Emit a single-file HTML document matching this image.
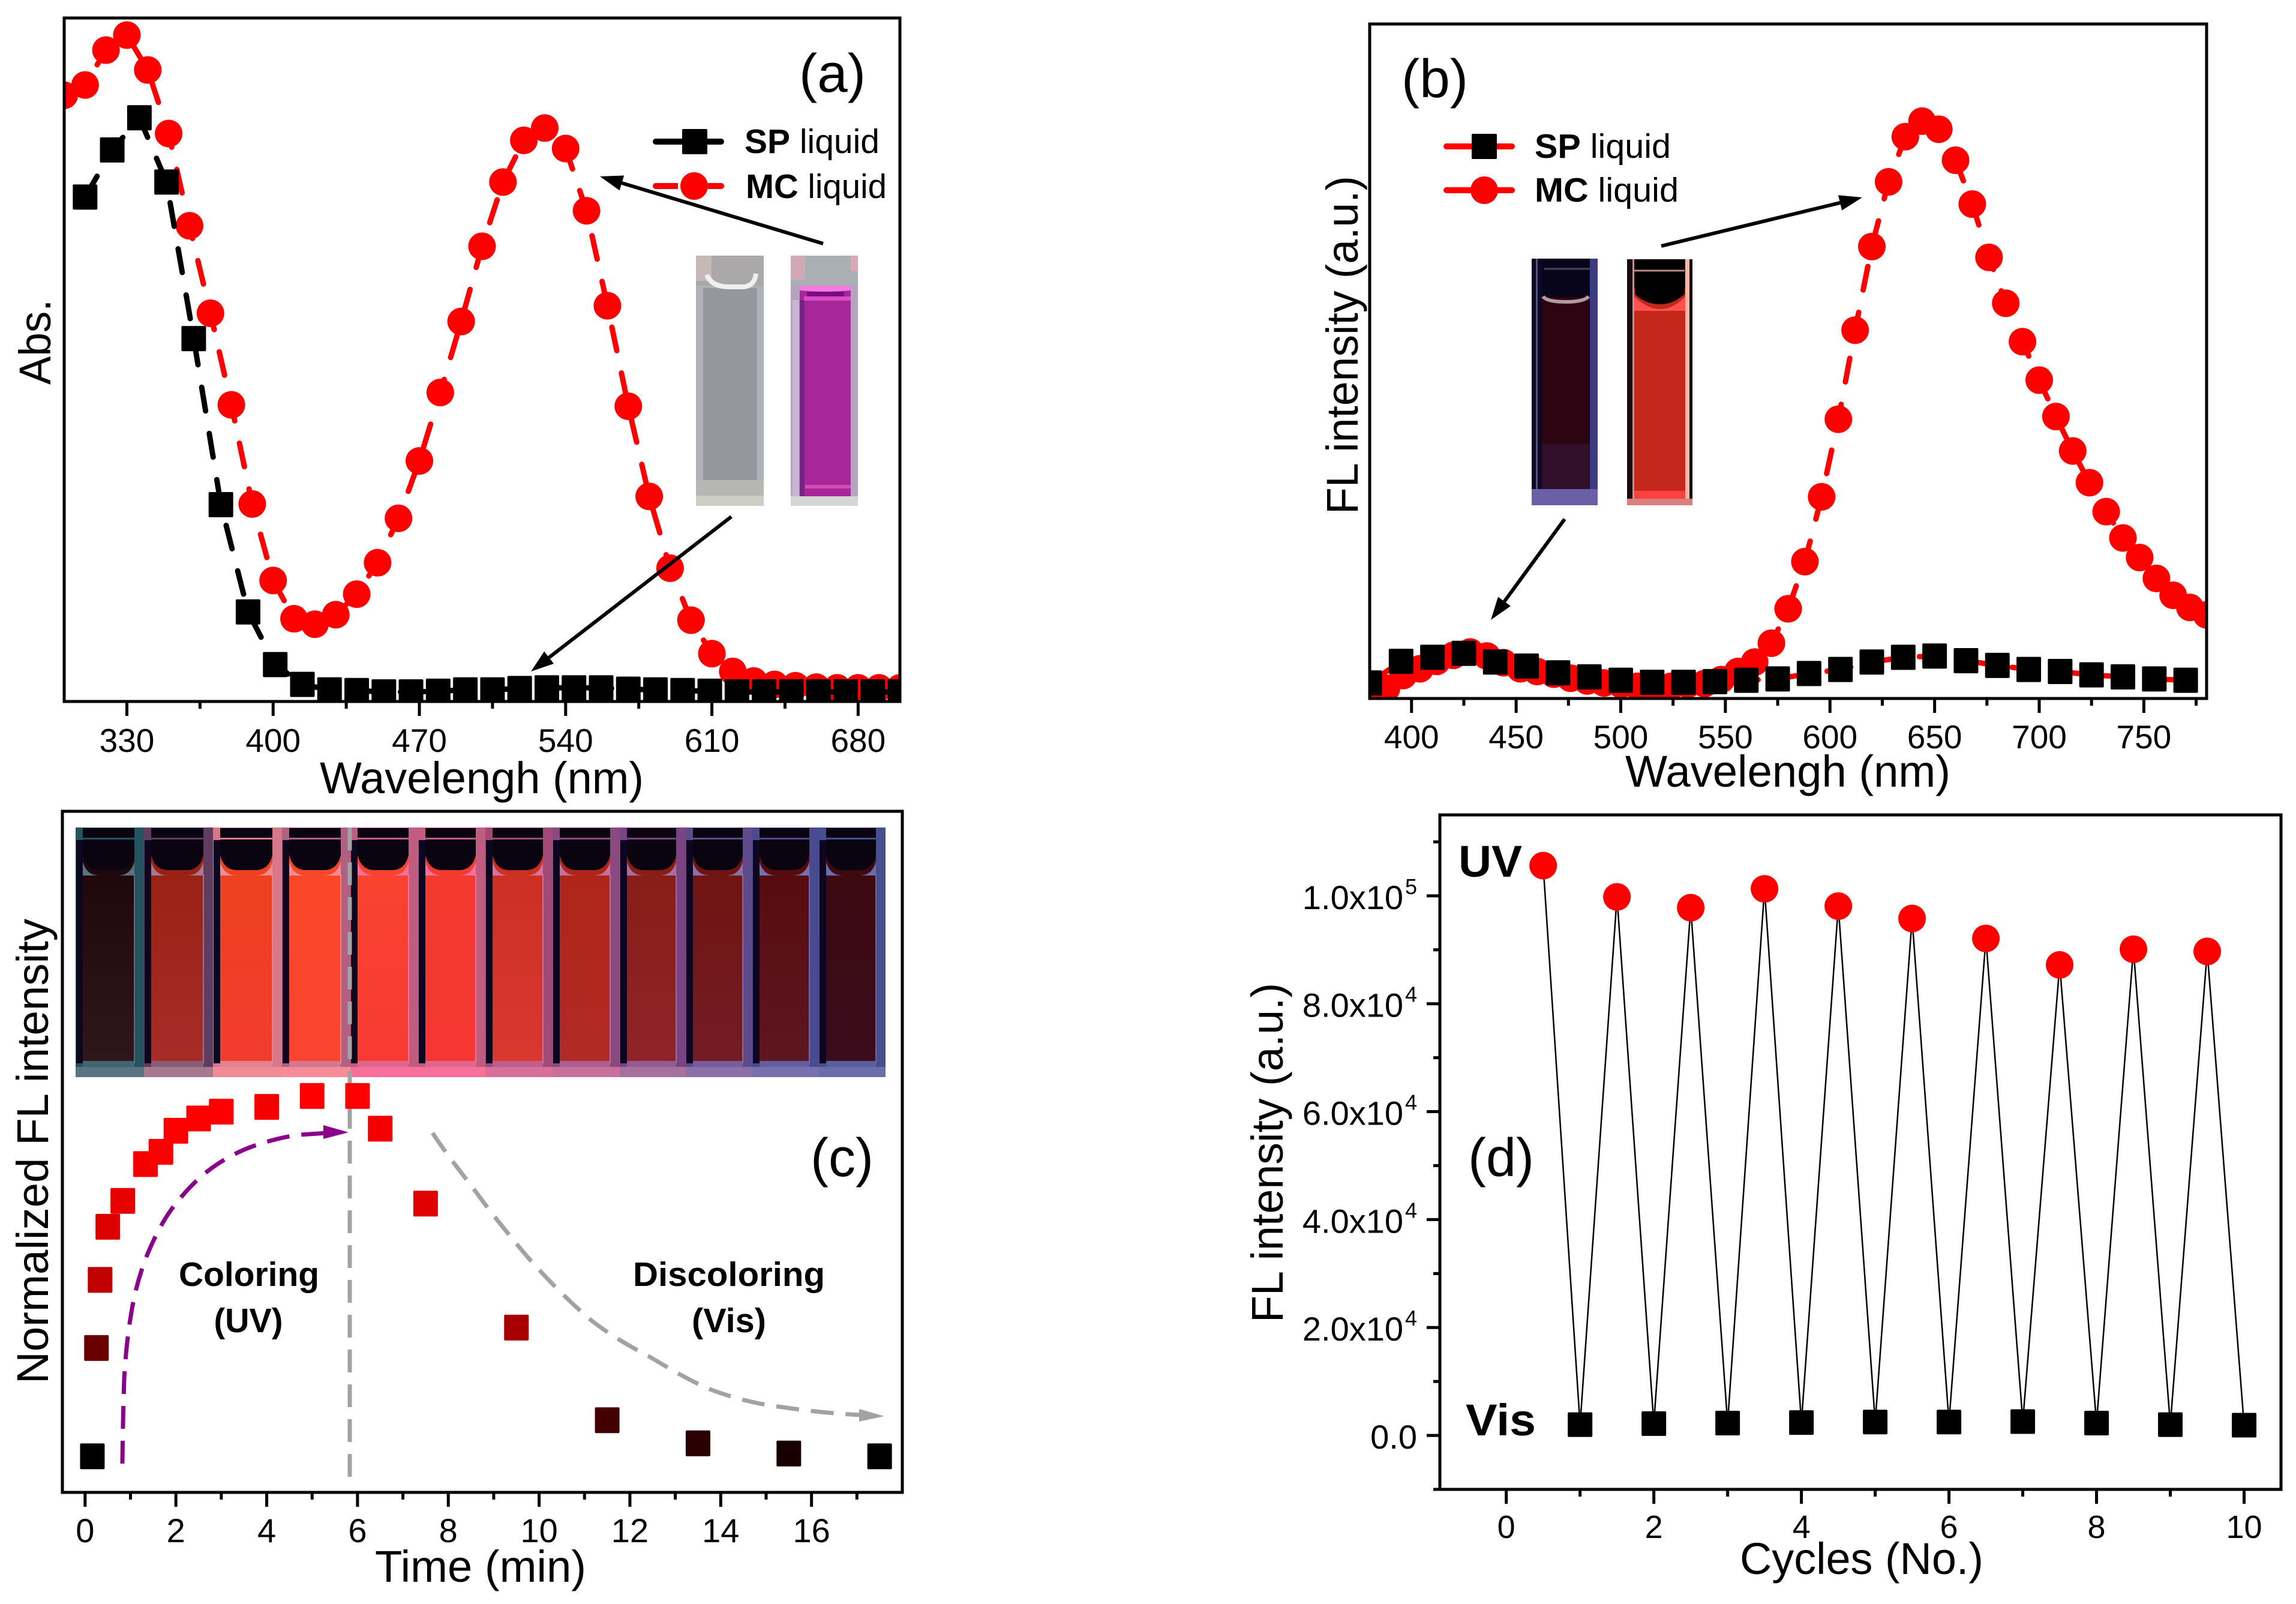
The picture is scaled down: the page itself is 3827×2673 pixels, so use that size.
<!DOCTYPE html>
<html lang="en">
<head>
<meta charset="utf-8">
<title>Photochromic spectra panels</title>
<style>
html,body{margin:0;padding:0;background:#fff}
svg{display:block}
text{font-family:"Liberation Sans",sans-serif;fill:#000}
.title{font-size:74px}
.panel{font-size:90px}
.leg{font-size:57px}
.bold{font-weight:bold}
</style>
</head>
<body>
<svg id="fig" xmlns="http://www.w3.org/2000/svg" width="3827" height="2673" viewBox="0 0 3827 2673">
<defs>
<clipPath id="clipA"><rect x="107" y="30" width="1393" height="1139"/></clipPath>
<clipPath id="clipB"><rect x="2283" y="40" width="1395" height="1124"/></clipPath>
<linearGradient id="sheen" x1="0" y1="0" x2="0" y2="1"><stop offset="0" stop-color="#fff" stop-opacity="0"/><stop offset="1" stop-color="#fff" stop-opacity=".07"/></linearGradient>
</defs>
<rect x="0" y="0" width="3827" height="2673" fill="#fff"/>

<g id="panelA">
  <g id="a-marks" clip-path="url(#clipA)"></g>
  <g id="a-ticks"></g>
  <rect x="107" y="30" width="1393" height="1139" fill="none" stroke="#000" stroke-width="5"/>
  <text class="title" x="533" y="1322" textLength="540" lengthAdjust="spacingAndGlyphs">Wavelengh (nm)</text>
  <text class="title" x="84" y="641" transform="rotate(-90 84 641)" textLength="142" lengthAdjust="spacingAndGlyphs">Abs.</text>
  <text class="panel" x="1332" y="153" textLength="111" lengthAdjust="spacingAndGlyphs">(a)</text>
  <g>
    <line x1="1093" y1="236" x2="1202" y2="236" stroke="#000" stroke-width="10" stroke-linecap="round"/>
    <rect x="1137" y="215" width="42" height="42" rx="2" fill="#000"/>
    <text class="leg" x="1241" y="255" textLength="225" lengthAdjust="spacingAndGlyphs"><tspan class="bold">SP</tspan> liquid</text>
    <line x1="1093" y1="310" x2="1202" y2="310" stroke="#f00" stroke-width="10" stroke-linecap="round"/>
    <line x1="1130" y1="310" x2="1180" y2="310" stroke="#fff" stroke-width="12"/>
    <circle cx="1157" cy="310" r="23" fill="#f00"/>
    <text class="leg" x="1243" y="330" textLength="235" lengthAdjust="spacingAndGlyphs"><tspan class="bold">MC</tspan> liquid</text>
  </g>
  <g>
    <rect x="1160" y="426" width="113" height="417" fill="#b0b0b8"/>
    <rect x="1172" y="480" width="90" height="335" fill="#96969e"/>
    <rect x="1160" y="426" width="113" height="50" fill="#aaa8a8"/>
    <rect x="1160" y="426" width="26" height="42" fill="#c4b8b8"/>
    <path d="M1178 458 Q1186 478 1215 478 H1240 Q1258 476 1260 456" fill="none" stroke="#f0f0f0" stroke-width="8"/>
    <rect x="1160" y="800" width="113" height="28" fill="#b6b6b4"/>
    <rect x="1160" y="826" width="113" height="17" fill="#cdcdc6"/>
    <rect x="1318" y="426" width="112" height="417" fill="#b8a2c2"/>
    <rect x="1321" y="500" width="10" height="327" fill="#ccb4d8"/>
    <rect x="1333" y="476" width="85" height="351" fill="#a8269a"/>
    <rect x="1333" y="500" width="8" height="327" fill="#7a2088"/>
    <rect x="1318" y="426" width="112" height="50" fill="#a8b0b4"/>
    <rect x="1318" y="426" width="24" height="40" fill="#d0a8b8"/>
    <rect x="1418" y="426" width="12" height="26" fill="#dca8b8"/>
    <path d="M1333 476 H1418 V484 Q1375 488 1333 484 Z" fill="#f27be2"/>
    <rect x="1345" y="486" width="62" height="8" fill="#7c0a80"/>
    <rect x="1340" y="494" width="78" height="7" fill="#d84cc4"/>
    <rect x="1342" y="808" width="76" height="6" fill="#d050b0"/>
    <rect x="1318" y="827" width="112" height="16" fill="#d4d8d4"/>
  </g>
  <g id="a-arrows"></g>
</g>

<g id="panelB">
  <g id="b-marks" clip-path="url(#clipB)"></g>
  <g id="b-ticks"></g>
  <rect x="2283" y="40" width="1395" height="1124" fill="none" stroke="#000" stroke-width="5"/>
  <text class="title" x="2709" y="1311" textLength="542" lengthAdjust="spacingAndGlyphs">Wavelengh (nm)</text>
  <text class="title" x="2263" y="857" transform="rotate(-90 2263 857)" textLength="564" lengthAdjust="spacingAndGlyphs">FL intensity (a.u.)</text>
  <text class="panel" x="2336" y="162" textLength="111" lengthAdjust="spacingAndGlyphs">(b)</text>
  <g>
    <line x1="2411" y1="244" x2="2520" y2="244" stroke="#f00" stroke-width="10" stroke-linecap="round"/>
    <rect x="2453" y="223" width="42" height="42" rx="2" fill="#000"/>
    <text class="leg" x="2558" y="263" textLength="227" lengthAdjust="spacingAndGlyphs"><tspan class="bold">SP</tspan> liquid</text>
    <line x1="2411" y1="317" x2="2520" y2="317" stroke="#f00" stroke-width="10" stroke-linecap="round"/>
    <circle cx="2474" cy="317" r="23" fill="#f00"/>
    <text class="leg" x="2558" y="336" textLength="240" lengthAdjust="spacingAndGlyphs"><tspan class="bold">MC</tspan> liquid</text>
  </g>
  <g>
    <rect x="2553" y="431" width="110" height="411" fill="#0a0a28"/>
    <rect x="2650" y="431" width="13" height="411" fill="#3c3c80"/>
    <rect x="2560" y="431" width="3" height="400" fill="#5a5478"/>
    <rect x="2570" y="495" width="79" height="320" fill="#2c0412"/>
    <rect x="2570" y="740" width="79" height="75" fill="#32102c"/>
    <rect x="2570" y="431" width="79" height="64" fill="#08041a"/>
    <line x1="2574" y1="448" x2="2650" y2="448" stroke="#4a4660" stroke-width="3"/>
    <path d="M2572 494 Q2578 503 2610 503 Q2640 503 2648 494" fill="none" stroke="#b09aa0" stroke-width="6"/>
    <rect x="2553" y="815" width="110" height="27" fill="#6a60a8"/>
    <rect x="2712" y="432" width="109" height="410" fill="#1a0a10"/>
    <rect x="2724" y="480" width="85" height="338" fill="#c4281a"/>
    <rect x="2809" y="432" width="7" height="410" fill="#f8b8a0"/>
    <rect x="2721" y="432" width="3" height="400" fill="#c49088"/>
    <path d="M2724 494 Q2745 515 2767 515 Q2790 515 2809 494 V518 H2724 Z" fill="#ff5050"/>
    <path d="M2725 432 H2808 V490 Q2790 507 2767 507 Q2742 507 2725 490 Z" fill="#000"/>
    <line x1="2722" y1="451" x2="2808" y2="451" stroke="#b88884" stroke-width="3"/>
    <rect x="2724" y="818" width="85" height="13" fill="#ff4040"/>
    <rect x="2712" y="831" width="109" height="11" fill="#d88080"/>
  </g>
  <g id="b-arrows"></g>
</g>

<g id="panelC">
  <g id="c-strip"></g>
  <line x1="583" y1="1379" x2="583" y2="2478" stroke="#a2a2a2" stroke-width="7" stroke-dasharray="38 20"/>
  <path d="M204 2439 C205 2360 206 2330 207 2298 C209 2260 213 2222 219 2187 C225 2150 234 2120 245 2092 C256 2065 270 2037 286 2015 C303 1992 325 1968 347 1951 C372 1932 400 1917 428 1908 C452 1900 476 1894 500 1891 L545 1888" fill="none" stroke="#8b008b" stroke-width="7" stroke-dasharray="38 20"/>
  <polygon points="581,1887 539,1875 539,1898" fill="#8b008b"/>
  <path d="M721 1888 C745 1925 770 1955 796 1990 C823 2027 850 2060 877 2092 C910 2130 945 2165 979 2195 C1012 2222 1047 2242 1081 2260 C1115 2280 1148 2300 1183 2315 C1222 2330 1262 2340 1305 2345 C1350 2352 1395 2356 1435 2358" fill="none" stroke="#a2a2a2" stroke-width="7" stroke-dasharray="38 20"/>
  <polygon points="1474,2360 1432,2348 1432,2369" fill="#a2a2a2"/>
  <g id="c-marks"></g>
  <g id="c-ticks"></g>
  <rect x="104" y="1352" width="1400" height="1135" fill="none" stroke="#000" stroke-width="5"/>
  <text class="title" x="625" y="2636" textLength="352" lengthAdjust="spacingAndGlyphs">Time (min)</text>
  <text class="title" x="80" y="2306" transform="rotate(-90 80 2306)" textLength="775" lengthAdjust="spacingAndGlyphs">Normalized FL intensity</text>
  <text class="panel" x="1351" y="1960" textLength="105" lengthAdjust="spacingAndGlyphs">(c)</text>
  <text class="leg bold" x="415" y="2143" text-anchor="middle" textLength="234" lengthAdjust="spacingAndGlyphs">Coloring</text>
  <text class="leg bold" x="414" y="2220" text-anchor="middle" textLength="115" lengthAdjust="spacingAndGlyphs">(UV)</text>
  <text class="leg bold" x="1215" y="2143" text-anchor="middle" textLength="320" lengthAdjust="spacingAndGlyphs">Discoloring</text>
  <text class="leg bold" x="1215" y="2220" text-anchor="middle" textLength="124" lengthAdjust="spacingAndGlyphs">(Vis)</text>
</g>

<g id="panelD">
  <g id="d-marks"></g>
  <g id="d-ticks"></g>
  <rect x="2400" y="1358" width="1402" height="1124" fill="none" stroke="#000" stroke-width="5"/>
  <text class="title" x="2900" y="2623" textLength="406" lengthAdjust="spacingAndGlyphs">Cycles (No.)</text>
  <text class="title" x="2138" y="2204" transform="rotate(-90 2138 2204)" textLength="566" lengthAdjust="spacingAndGlyphs">FL intensity (a.u.)</text>
  <text class="panel" x="2447" y="1960" textLength="110" lengthAdjust="spacingAndGlyphs">(d)</text>
  <text class="bold" x="2431" y="1461" font-size="74" textLength="106" lengthAdjust="spacingAndGlyphs">UV</text>
  <text class="bold" x="2443" y="2392" font-size="74" textLength="117" lengthAdjust="spacingAndGlyphs">Vis</text>
</g>
</svg>

<script>
// Panel (a) data: normalised absorbance vs wavelength
var aMcWavelengths = [300,310,320,330,340,350,360,370,380,390,400,410,420,430,440,450,460,470,480,490,500,510,520,530,540,550,560,570,580,590,600,610,620,630,640,650,660,670,680,690,700];
var aMcValues = [.887,.902,.953,.975,.924,.831,.696,.568,.434,.289,.177,.121,.113,.127,.157,.203,.268,.352,.452,.556,.666,.760,.821,.839,.809,.718,.579,.432,.300,.195,.119,.070,.044,.030,.025,.023,.021,.020,.020,.020,.020];
var aSpWavelengths = [310,323,336,349,362,375,388,401,414,427,440,453,466,479,492,505,518,531,544,557,570,583,596,609,622,635,648,661,674,687,700];
var aSpValues = [.738,.807,.854,.760,.531,.288,.131,.054,.025,.017,.016,.014,.014,.015,.017,.017,.019,.020,.020,.020,.018,.017,.016,.015,.014,.014,.014,.014,.014,.014,.014];
var aMajorTicks = [330,400,470,540,610,680];
var aMinorTicks = [365,435,505,575,645];
var aTickLabels = ["330","400","470","540","610","680"];

// Panel (b) data: normalised fluorescence vs wavelength
var bMcWavelengths = [380,388,396,404,412,420,428,436,444,452,460,468,476,484,492,500,508,516,524,532,540,548,556,564,572,580,588,596,604,612,620,628,636,644,652,660,668,676,684,692,700,708,716,724,732,740,748,756,764,772,780];
var bMcValues = [.005,.015,.034,.044,.055,.064,.069,.063,.053,.044,.040,.036,.030,.026,.023,.021,.018,.017,.018,.021,.022,.028,.040,.054,.082,.133,.203,.299,.414,.546,.670,.766,.833,.856,.844,.798,.733,.654,.586,.529,.472,.418,.367,.320,.277,.238,.209,.178,.153,.135,.124];
var bSpWavelengths = [380,395,410,425,440,455,470,485,500,515,530,545,560,575,590,605,620,635,650,665,680,695,710,725,740,755,770];
var bSpValues = [.023,.055,.061,.067,.054,.048,.038,.032,.027,.024,.024,.025,.027,.029,.037,.043,.054,.061,.063,.056,.049,.043,.040,.035,.032,.029,.027];
var bMajorTicks = [400,450,500,550,600,650,700,750];
var bMinorTicks = [425,475,525,575,625,675,725,775];
var bTickLabels = ["400","450","500","550","600","650","700","750"];

// Panel (c) data: normalised FL intensity vs time
var cTimes = [.16,.25,.33,.5,.83,1.33,1.67,2,2.5,3,4,5,6,6.5,7.5,9.5,11.5,13.5,15.5,17.5];
var cValues = [.053,.212,.312,.390,.428,.482,.500,.531,.549,.559,.566,.582,.582,.534,.424,.242,.106,.072,.057,.053];
var cColors = ["#000000","#6b0000","#c00000","#dd0000","#e80000","#f50000","#fa0000","#ff0000","#ff0000","#ff0000","#f40000","#ff0000","#ff0000","#f40000","#e00000","#a80000","#440000","#2a0000","#180000","#000000"];
var cMajorTicks = [0,2,4,6,8,10,12,14,16];
var cMinorTicks = [1,3,5,7,9,11,13,15,17];
var cTickLabels = ["0","2","4","6","8","10","12","14","16"];

// Panel (d) data: FL intensity over switching cycles
var dUvCycles = [.5,1.5,2.5,3.5,4.5,5.5,6.5,7.5,8.5,9.5];
var dUvValues = [105600,99800,97800,101300,98100,95800,92100,87200,90100,89700];
var dVisCycles = [1,2,3,4,5,6,7,8,9,10];
var dVisValues = [2000,2190,2290,2380,2480,2480,2570,2290,2000,1900];
var dXMajorTicks = [0,2,4,6,8,10];
var dXMinorTicks = [1,3,5,7,9];
var dXTickLabels = ["0","2","4","6","8","10"];
var dYMajorTicks = [20000,40000,60000,80000,100000];
var dYMinorTicks = [-10000,10000,30000,50000,70000,90000,110000];
var dYMantissas = ["2.0x10","4.0x10","6.0x10","8.0x10","1.0x10"];
var dYExponents = ["4","4","4","4","5"];

var NS = 'http://www.w3.org/2000/svg';
function make(parent, tag, attrs) {
  var node = document.createElementNS(NS, tag);
  for (var k in attrs) node.setAttribute(k, attrs[k]);
  parent.appendChild(node);
  return node;
}
function linear(d0, d1, r0, r1) {
  return function (v) { return r0 + (v - d0) / (d1 - d0) * (r1 - r0); };
}
function byId(id) { return document.getElementById(id); }

function drawLine(parent, xs, ys, sx, sy, color, width, dash) {
  var pts = xs.map(function (x, i) { return sx(x).toFixed(1) + ',' + sy(ys[i]).toFixed(1); }).join(' ');
  var attrs = { points: pts, fill: 'none', stroke: color, 'stroke-width': width, 'stroke-linejoin': 'round' };
  if (dash) { attrs['stroke-dasharray'] = dash; attrs['stroke-linecap'] = 'round'; }
  var line = make(parent, 'polyline', attrs);
  
  
}
function drawCircles(parent, xs, ys, sx, sy, color, r) {
  xs.forEach(function (x, i) {
    var c = make(parent, 'circle', { cx: sx(x), cy: sy(ys[i]), r: r, fill: color });
    
    
  });
}
function drawSquares(parent, xs, ys, sx, sy, colorOf, w, h) {
  xs.forEach(function (x, i) {
    var s = make(parent, 'rect', { x: sx(x) - w / 2, y: sy(ys[i]) - h / 2, width: w, height: h, rx: 2, fill: colorOf(i) });
    
    
  });
}
function drawXAxis(parent, sx, baseY, majors, minors, labels, labelY, fontSize) {
  majors.forEach(function (v, i) {
    var t = make(parent, 'line', { x1: sx(v), x2: sx(v), y1: baseY, y2: baseY + 24, stroke: '#000', 'stroke-width': 5 });
    
    
    var l = make(parent, 'text', { x: sx(v), y: labelY, 'text-anchor': 'middle', 'font-size': fontSize });
    
    
    l.textContent = labels[i];
  });
  minors.forEach(function (v) {
    var t = make(parent, 'line', { x1: sx(v), x2: sx(v), y1: baseY, y2: baseY + 12, stroke: '#000', 'stroke-width': 5 });
    
    
  });
}
function drawArrow(parent, x1, y1, x2, y2) {
  var a = Math.atan2(y2 - y1, x2 - x1), len = 38, hw = 13;
  var bx = x2 - Math.cos(a) * len, by = y2 - Math.sin(a) * len;
  var l = make(parent, 'line', { x1: x1, y1: y1, x2: bx, y2: by, stroke: '#000', 'stroke-width': 6 });
  
  
  var pts = [x2, y2, bx - Math.sin(a) * hw, by + Math.cos(a) * hw, bx + Math.sin(a) * hw, by - Math.cos(a) * hw].join(' ');
  var h = make(parent, 'polygon', { points: pts, fill: '#000' });
  
  
}

function drawPhotoStrip(parent) {
  var edges = [126,240,355,470,584,697,809,921,1033,1143,1254,1365,1476];
  var tops = ["#1c0508","#981f10","#ee421c","#f94826","#f94530","#f43b2e","#c92f20","#ae2417","#881b13","#6e130f","#54090b","#3c090d"];
  var bottoms = ["#2e161a","#a62c28","#f23c2e","#fb4430","#f83a32","#f53632","#da372e","#b22a25","#8e2428","#741c24","#5e1620","#3a0c1c"];
  var frames = ["#27525f","#5f3c60","#d6788a","#b06080","#c05c80","#c05c80","#a04a78","#8a4a80","#7a4484","#5f4a8a","#4a4a90","#46508e"];
  var bases = ["#5a7484","#a8788c","#f08a94","#f58c98","#f8709a","#f8709a","#d8709c","#c8709c","#a8709c","#8a70a8","#7670ac","#6a6cac"];
  tops.forEach(function (topColor, i) {
    var x0 = edges[i], x1 = edges[i + 1];
    var gradId = 'liq' + i;
    var grad = make(parent, 'linearGradient', { id: gradId, x1: 0, y1: 0, x2: 0, y2: 1 });
    make(grad, 'stop', { offset: 0, 'stop-color': topColor });
    make(grad, 'stop', { offset: 1, 'stop-color': bottoms[i] });
    var frame = make(parent, 'rect', { x: x0, y: 1379, width: x1 - x0, height: 416, fill: frames[i] });
    
    
    var band = make(parent, 'rect', { x: x0 + 1, y: 1400, width: 11, height: 372, fill: '#0c0620' });
    
    
    var body = make(parent, 'rect', { x: x0 + 12, y: 1392, width: x1 - x0 - 28, height: 376, fill: 'url(#' + gradId + ')' });
    
    
    var rule = make(parent, 'rect', { x: x1 - 17, y: 1457, width: 2, height: 315, fill: bases[i], opacity: .9 });
    
    
    var glow = make(parent, 'path', { d: 'M' + (x0 + 12) + ' 1436 Q' + (x0 + 18) + ' 1459 ' + (x0 + 40) + ' 1459 H' + (x1 - 44) + ' Q' + (x1 - 22) + ' 1459 ' + (x1 - 16) + ' 1436 V1459 H' + (x0 + 12) + ' Z', fill: bases[i] });
    
    
    var air = make(parent, 'path', { d: 'M' + (x0 + 12) + ' 1380 H' + (x1 - 16) + ' V1425 Q' + (x1 - 22) + ' 1450 ' + (x1 - 44) + ' 1450 H' + (x0 + 40) + ' Q' + (x0 + 18) + ' 1450 ' + (x0 + 12) + ' 1425 Z', fill: '#0a0410' });
    
    
    var rim = make(parent, 'rect', { x: x0 + 12, y: 1396, width: x1 - x0 - 28, height: 3, fill: frames[i] });
    
    
    var lower = make(parent, 'rect', { x: x0 + 12, y: 1768, width: x1 - x0 - 28, height: 10, fill: bases[i], opacity: .55 });
    
    
    var base = make(parent, 'rect', { x: x0, y: 1778, width: x1 - x0, height: 17, fill: bases[i] });
    
    
  });
}

// Panel (a)
var aX = linear(300, 700, 107, 1500);
var aY = linear(0, 1, 1169, 30);
var aMarks = byId('a-marks');
drawLine(aMarks, aMcWavelengths, aMcValues, aX, aY, '#f00', 9, '40 38');
drawCircles(aMarks, aMcWavelengths, aMcValues, aX, aY, '#f00', 23);
drawLine(aMarks, aSpWavelengths, aSpValues, aX, aY, '#000', 9, '40 38');
drawSquares(aMarks, aSpWavelengths, aSpValues, aX, aY, function () { return '#000'; }, 41, 42);
drawXAxis(byId('a-ticks'), aX, 1169, aMajorTicks, aMinorTicks, aTickLabels, 1253, 55);
drawArrow(byId('a-arrows'), 1372, 406, 1000, 294);
drawArrow(byId('a-arrows'), 1219, 861, 885, 1119);

// Panel (b)
var bX = linear(380, 780, 2283, 3678);
var bY = linear(0, 1, 1164, 40);
var bMarks = byId('b-marks');
drawLine(bMarks, bMcWavelengths, bMcValues, bX, bY, '#f00', 9, '40 38');
drawCircles(bMarks, bMcWavelengths, bMcValues, bX, bY, '#f00', 23);
drawLine(bMarks, bSpWavelengths, bSpValues, bX, bY, '#f00', 9, '40 38');
drawSquares(bMarks, bSpWavelengths, bSpValues, bX, bY, function () { return '#000'; }, 41, 42);
drawXAxis(byId('b-ticks'), bX, 1164, bMajorTicks, bMinorTicks, bTickLabels, 1247, 55);
drawArrow(byId('b-arrows'), 2769, 410, 3104, 329);
drawArrow(byId('b-arrows'), 2608, 865, 2485, 1033);

// Panel (c)
drawPhotoStrip(byId('c-strip'));
var cX = linear(-0.5, 18, 104, 1504);
var cY = linear(0, 1, 2487, 1352);
drawSquares(byId('c-marks'), cTimes, cValues, cX, cY, function (i) { return cColors[i]; }, 41, 43);
drawXAxis(byId('c-ticks'), cX, 2487, cMajorTicks, cMinorTicks, cTickLabels, 2570, 56);

// Panel (d)
var dX = linear(-0.9, 10.5, 2400, 3802);
var dY = linear(-10000, 115000, 2482, 1358);
var dMarks = byId('d-marks');
var dSeqX = [], dSeqY = [];
dUvCycles.forEach(function (c, i) {
  dSeqX.push(c, dVisCycles[i]);
  dSeqY.push(dUvValues[i], dVisValues[i]);
});
drawLine(dMarks, dSeqX, dSeqY, dX, dY, '#000', 2.5);
drawCircles(dMarks, dUvCycles, dUvValues, dX, dY, '#f00', 23);
drawSquares(dMarks, dVisCycles, dVisValues, dX, dY, function () { return '#000'; }, 41, 41);
var dTicks = byId('d-ticks');
drawXAxis(dTicks, dX, 2482, dXMajorTicks, dXMinorTicks, dXTickLabels, 2563, 54);
dYMajorTicks.forEach(function (v, i) {
  var t = make(dTicks, 'line', { x1: 2400, x2: 2378, y1: dY(v), y2: dY(v), stroke: '#000', 'stroke-width': 5 });
  
  
  var m = make(dTicks, 'text', { x: 2339, y: dY(v) + 22, 'text-anchor': 'end', 'font-size': 56 });
  
  
  m.textContent = dYMantissas[i];
  var e = make(dTicks, 'text', { x: 2342, y: dY(v) - 3, 'font-size': 36 });
  
  
  e.textContent = dYExponents[i];
});
var zeroTick = make(dTicks, 'line', { x1: 2400, x2: 2378, y1: dY(0), y2: dY(0), stroke: '#000', 'stroke-width': 5 });


var zeroLabel = make(dTicks, 'text', { x: 2362, y: dY(0) + 22, 'text-anchor': 'end', 'font-size': 56 });


zeroLabel.textContent = '0.0';
dYMinorTicks.forEach(function (v) {
  var t = make(dTicks, 'line', { x1: 2400, x2: 2389, y1: dY(v), y2: dY(v), stroke: '#000', 'stroke-width': 5 });
  
  
});
</script>
</body>
</html>
